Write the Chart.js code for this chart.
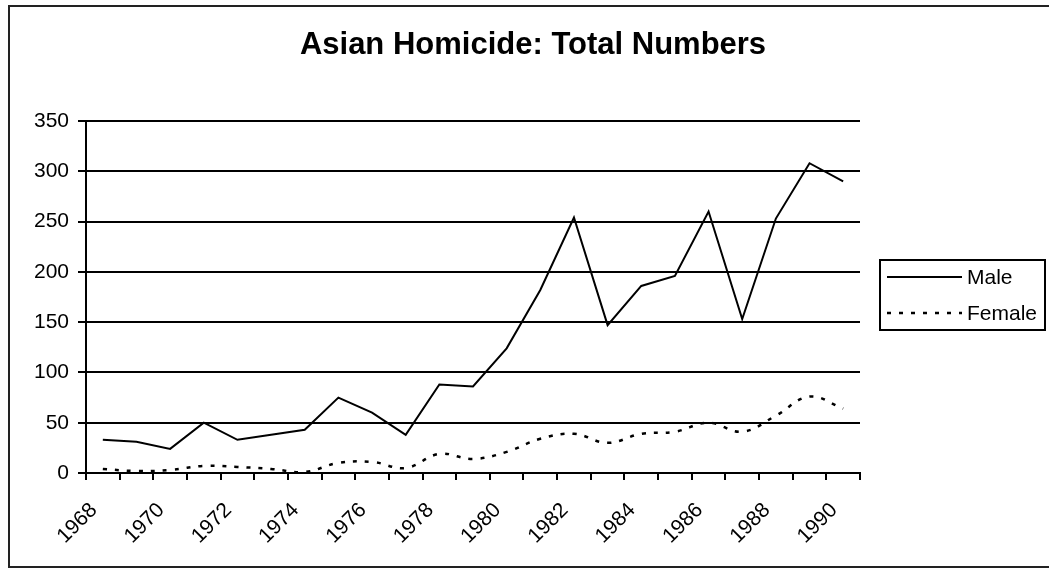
<!DOCTYPE html>
<html>
<head>
<meta charset="utf-8">
<script src="https://cdn.jsdelivr.net/npm/chart.js@4/dist/chart.umd.min.js"></script>
<style>
  html, body { margin: 0; padding: 0; background: #fff; }
  #wrap { width: 1049px; height: 571px; position: relative; }
</style>
</head>
<body>
<div id="wrap"><canvas id="c" width="1049" height="571"></canvas></div>
<script>
const titleText = "Asian Homicide: Total Numbers";
const years = ["1968","1969","1970","1971","1972","1973","1974","1975","1976","1977","1978","1979",
               "1980","1981","1982","1983","1984","1985","1986","1987","1988","1989","1990"];
const maleValues =   [33, 31, 24, 50, 33, 38, 43, 75, 60, 38, 88, 86, 124, 182, 254, 147, 186, 196, 260, 153, 253, 308, 290];
const femaleValues = [4, 2, 3, 7, 6, 4, 1, 10, 11, 5, 19, 14, 21, 34, 39, 30, 39, 41, 50, 41, 57, 76, 64];
const yTicks = [0, 50, 100, 150, 200, 250, 300, 350];

const FONT = "'Liberation Sans', Arial, sans-serif";

const framePlugin = {
  id: 'frame',
  beforeDraw(chart) {
    const ctx = chart.ctx;
    ctx.save();
    ctx.fillStyle = '#fff';
    ctx.fillRect(0, 0, chart.width, chart.height);
    ctx.strokeStyle = '#222';
    ctx.lineWidth = 2;
    ctx.beginPath();
    ctx.moveTo(1049, 6);
    ctx.lineTo(9, 6);
    ctx.lineTo(9, 567);
    ctx.lineTo(1049, 567);
    ctx.stroke();
    ctx.fillStyle = '#000';
    ctx.font = "bold 31px " + FONT;
    ctx.textAlign = 'center';
    ctx.textBaseline = 'alphabetic';
    ctx.fillText(titleText, 533, 54);
    ctx.restore();
  },
  afterDraw(chart) {
    const ctx = chart.ctx;
    ctx.save();
    ctx.strokeStyle = '#000';
    ctx.lineWidth = 2;
    ctx.strokeRect(880, 260, 165, 70);
    const rows = [277, 313];
    chart.data.datasets.forEach((ds, i) => {
      const y = rows[i];
      ctx.beginPath();
      ctx.lineWidth = ds.borderWidth;
      ctx.setLineDash(ds.borderDash || []);
      ctx.moveTo(887, y);
      ctx.lineTo(962, y);
      ctx.stroke();
      ctx.setLineDash([]);
      ctx.fillStyle = '#000';
      ctx.font = "21px " + FONT;
      ctx.textAlign = 'left';
      ctx.textBaseline = 'middle';
      ctx.fillText(ds.label, 967, y + 1);
    });
    ctx.restore();
  }
};

new Chart(document.getElementById('c'), {
  type: 'line',
  data: {
    labels: years,
    datasets: [
      { label: 'Male', data: maleValues, borderColor: '#000', borderWidth: 2, pointRadius: 0, tension: 0, fill: false },
      { label: 'Female', data: femaleValues, borderColor: '#000', borderWidth: 2.5, borderDash: [4, 8], pointRadius: 0, tension: 0.4, fill: false }
    ]
  },
  options: {
    responsive: false,
    animation: false,
    events: [],
    layout: { padding: { top: 121, right: 189, bottom: 0, left: 0 } },
    plugins: { legend: { display: false }, title: { display: false }, tooltip: { enabled: false } },
    scales: {
      x: {
        offset: true,
        afterFit(s) { s.height = 98; },
        grid: { offset: true, drawOnChartArea: false, drawTicks: true, tickLength: 7, color: '#000', lineWidth: 2 },
        border: { display: true, color: '#000', width: 2 },
        ticks: {
          autoSkip: false, minRotation: 45, maxRotation: 45, padding: 18, labelOffset: -9,
          color: '#000', font: { family: FONT, size: 21 },
          callback(val, idx) { return idx % 2 === 0 ? years[idx] : ''; }
        }
      },
      y: {
        min: 0, max: 350,
        afterFit(s) { s.width = 86; },
        afterBuildTicks(s) { s.ticks = yTicks.map(v => ({ value: v })); },
        grid: { color: '#000', lineWidth: 2, drawTicks: true, tickLength: 8 },
        border: { display: true, color: '#000', width: 2 },
        ticks: { color: '#000', padding: 9, font: { family: FONT, size: 21 } }
      }
    }
  },
  plugins: [framePlugin]
});
</script>
</body>
</html>
